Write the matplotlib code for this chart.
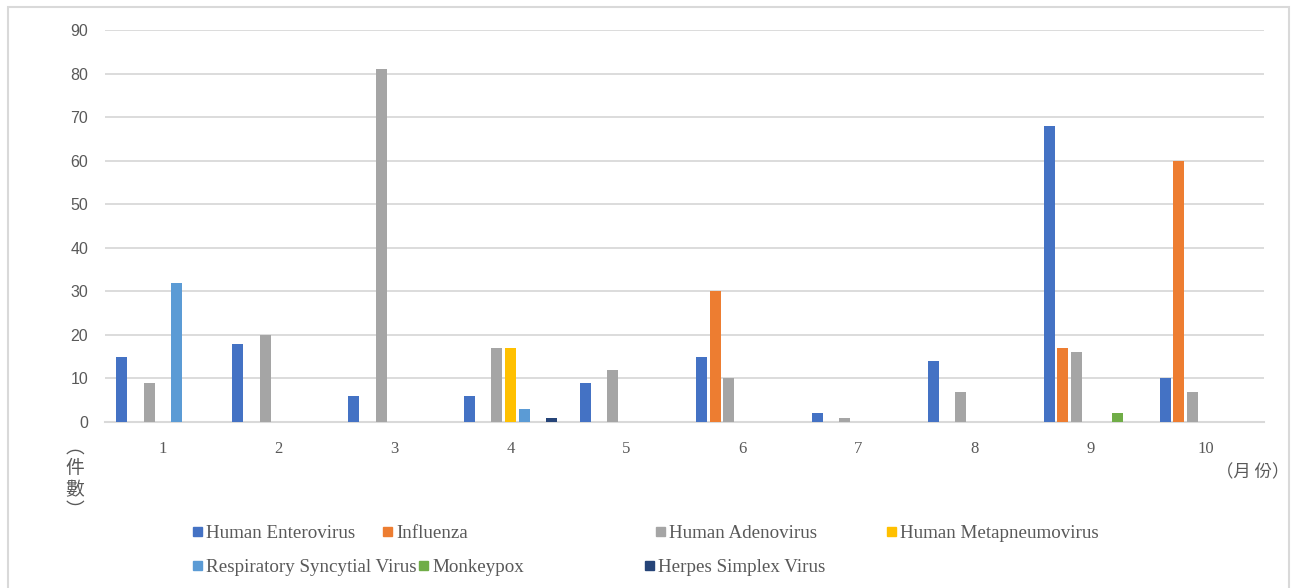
import numpy as np
import matplotlib.pyplot as plt
from matplotlib.patches import Rectangle

months = ['1', '2', '3', '4', '5', '6', '7', '8', '9', '10']
series_names = ['Human Enterovirus', 'Influenza', 'Human Adenovirus',
                'Human Metapneumovirus', 'Respiratory Syncytial Virus',
                'Monkeypox', 'Herpes Simplex Virus']
enterovirus = [15, 18, 6, 6, 9, 15, 2, 14, 68, 10]
influenza = [0, 0, 0, 0, 0, 30, 0, 0, 17, 60]
adenovirus = [9, 20, 81, 17, 12, 10, 1, 7, 16, 7]
metapneumovirus = [0, 0, 0, 17, 0, 0, 0, 0, 0, 0]
rsv = [32, 0, 0, 3, 0, 0, 0, 0, 0, 0]
monkeypox = [0, 0, 0, 0, 0, 0, 0, 0, 2, 0]
herpes = [0, 0, 0, 1, 0, 0, 0, 0, 0, 0]
colors = ['#4472C4', '#ED7D31', '#A5A5A5', '#FFC000', '#5B9BD5', '#70AD47', '#264478']

W, H = 1297, 588
fig = plt.figure(figsize=(W / 100, H / 100), dpi=100)
fig.patch.set_facecolor('white')

# outer chart frame
fig.patches.append(Rectangle((8 / W, -0.05), 1281 / W, 1 - 7 / H + 0.05,
                             transform=fig.transFigure, fill=False,
                             edgecolor='#D9D9D9', linewidth=1.5))

ax = fig.add_axes([105 / W, (H - 422) / H, 1159 / W, 392 / H])

data = [enterovirus, influenza, adenovirus, metapneumovirus, rsv, monkeypox, herpes]
x = np.arange(len(months))
slot = 0.118
bw = 0.095
for i, (vals, c) in enumerate(zip(data, colors)):
    ax.bar(x + (i - 3) * slot, vals, width=bw, color=c, zorder=3)

ax.set_xlim(-0.5, len(months) - 0.5)
ax.set_ylim(0, 90)
ax.set_yticks(range(0, 91, 10))
ax.set_xticks(x)
ax.set_xticklabels(months, family='Liberation Serif', fontsize=12, color='#595959')
for lab in ax.get_yticklabels():
    lab.set_family('Liberation Sans')
    lab.set_fontsize(11.5)
    lab.set_color('#595959')
ax.tick_params(length=0)
ax.tick_params(axis='y', pad=12)
ax.tick_params(axis='x', pad=14)
ax.grid(axis='y', color='#D9D9D9', linewidth=1.3, zorder=0)
for s in ['top', 'right', 'left']:
    ax.spines[s].set_visible(False)
ax.spines['bottom'].set_color('#D9D9D9')
ax.spines['bottom'].set_linewidth(1.5)

# axis titles
fig.text(75 / W, 1 - 479 / H, '︵\n件\n數\n︶', family=['Noto Sans CJK TC', 'DejaVu Sans'],
         fontsize=13.5, color='#595959', ha='center', va='center', linespacing=1.0)
fig.text(1253 / W, 1 - 472 / H, '（月 份）', family=['Noto Sans CJK TC', 'DejaVu Sans'],
         fontsize=12.5, color='#595959', ha='center', va='center')

# legend laid out in two rows
legend_pos = [(193, 532), (383, 532), (656, 532), (887, 532),
              (193, 566), (419, 566), (645, 566)]
for (lx, ly), name, c in zip(legend_pos, series_names, colors):
    fig.patches.append(Rectangle((lx / W, 1 - (ly + 4) / H), 9 / W, 9 / H,
                                 transform=fig.transFigure, color=c))
    fig.text((lx + 13) / W, 1 - (ly + 1) / H, name, family='Liberation Serif',
             fontsize=13.7, color='#595959', ha='left', va='center')

fig.savefig('out.png', dpi=100)
